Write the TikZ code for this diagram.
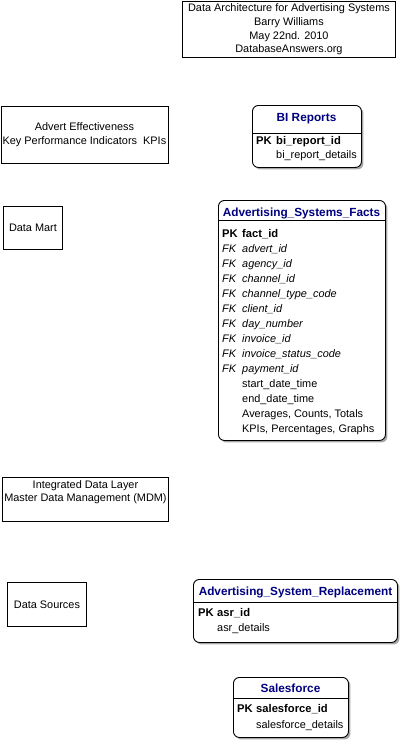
\documentclass[tikz,border=0pt]{standalone}
\usepackage{fontspec}
\setmainfont{Liberation Sans}
\usepackage{tikz}
\usetikzlibrary{positioning, shapes, shadows}
\definecolor{navy}{RGB}{0,0,128}

\begin{document}
\begin{tikzpicture}[x=1pt, y=-1pt, font=\fontsize{10.9}{13.7}\selectfont]
  \tikzstyle{box}=[draw, line width=0.9pt, anchor=north west, inner sep=0pt, align=center]
  \tikzstyle{entity}=[draw, line width=0.9pt, rounded corners=6pt, fill=white, anchor=north west, inner sep=0pt,
    drop shadow={shadow xshift=2pt, shadow yshift=-2pt, fill=black!35, opacity=1}]
  \tikzstyle{etitle}=[anchor=base, inner sep=0pt, font=\fontsize{11.8}{14}\selectfont\bfseries, text=navy]
  \tikzstyle{field}=[anchor=base west, inner sep=0pt]
  \tikzstyle{pk}=[anchor=base west, inner sep=0pt, font=\fontsize{11.2}{13.7}\selectfont\bfseries]
  \tikzstyle{fk}=[anchor=base west, inner sep=0pt, font=\fontsize{10.9}{13.7}\selectfont\itshape]
  \useasboundingbox (0,0) rectangle (402,744);

  % title and layer boxes
  \node[box, minimum width=213pt, minimum height=56pt] (hdr) at (182,1)
    {Data Architecture for Advertising Systems\\Barry Williams\\May 22nd. 2010\\DatabaseAnswers.org};
  \node[box, minimum width=167pt, minimum height=57pt] (kpi) at (0.5,106)
    {Advert Effectiveness\\Key Performance Indicators\ \ KPIs};
  \node[box, minimum width=59pt, minimum height=43pt] (mart) at (3,206) {Data Mart};
  \node[box, minimum width=166pt, minimum height=44pt, text depth=17pt] (mdm) at (2,477)
    {Integrated Data Layer\\Master Data Management (MDM)};
  \node[box, minimum width=79pt, minimum height=44pt] (src) at (7,582) {Data Sources};

  % BI Reports
  \node[entity, minimum width=109pt, minimum height=62pt] (bi) at (252,105) {};
  \draw[line width=0.9pt] ([yshift=-28pt]bi.north west) -- ([yshift=-28pt]bi.north east);
  \node[etitle] (biT) at (306.5,121) {BI Reports};
  \node[pk] (biPK) at (256,144) {PK};
  \node[pk] (biId) at (276,144) {bi\_report\_id};
  \node[field] (biDet) at (276,158) {bi\_report\_details};

  % Advertising_Systems_Facts
  \node[entity, minimum width=167pt, minimum height=240pt] (facts) at (218,200) {};
  \draw[line width=0.9pt] ([yshift=-20pt]facts.north west) -- ([yshift=-20pt]facts.north east);
  \node[etitle] (factsT) at (301.5,216) {Advertising\_Systems\_Facts};
  \node[pk] (factsPK) at (222,237) {PK};
  \node[pk] (factsId) at (242,237) {fact\_id};
  \foreach \f [count=\i] in {advert\_id, agency\_id, channel\_id, channel\_type\_code, client\_id,
      day\_number, invoice\_id, invoice\_status\_code, payment\_id} {
    \node[fk] (fk\i) at (222,237+15*\i) {FK};
    \node[fk] (fkf\i) at (242,237+15*\i) {\f};
  }
  \node[field] (start) at (242,387) {start\_date\_time};
  \node[field] (end) at (242,402) {end\_date\_time};
  \node[field] (avg) at (242,417) {Averages, Counts, Totals};
  \node[field] (kpis) at (242,432) {KPIs, Percentages, Graphs};

  % Advertising_System_Replacement
  \node[entity, minimum width=204pt, minimum height=63pt] (asr) at (193,579) {};
  \draw[line width=0.9pt] ([yshift=-23pt]asr.north west) -- ([yshift=-23pt]asr.north east);
  \node[etitle] (asrT) at (295.5,595) {Advertising\_System\_Replacement};
  \node[pk] (asrPK) at (198,616) {PK};
  \node[pk] (asrId) at (217,616) {asr\_id};
  \node[field] (asrDet) at (217,631) {asr\_details};

  % Salesforce
  \node[entity, minimum width=115pt, minimum height=60pt] (sf) at (233,677) {};
  \draw[line width=0.9pt] ([yshift=-21pt]sf.north west) -- ([yshift=-21pt]sf.north east);
  \node[etitle] (sfT) at (290.5,692) {Salesforce};
  \node[pk] (sfPK) at (237,712) {PK};
  \node[pk] (sfId) at (256,712) {salesforce\_id};
  \node[field] (sfDet) at (256,728) {salesforce\_details};
\end{tikzpicture}
\end{document}
